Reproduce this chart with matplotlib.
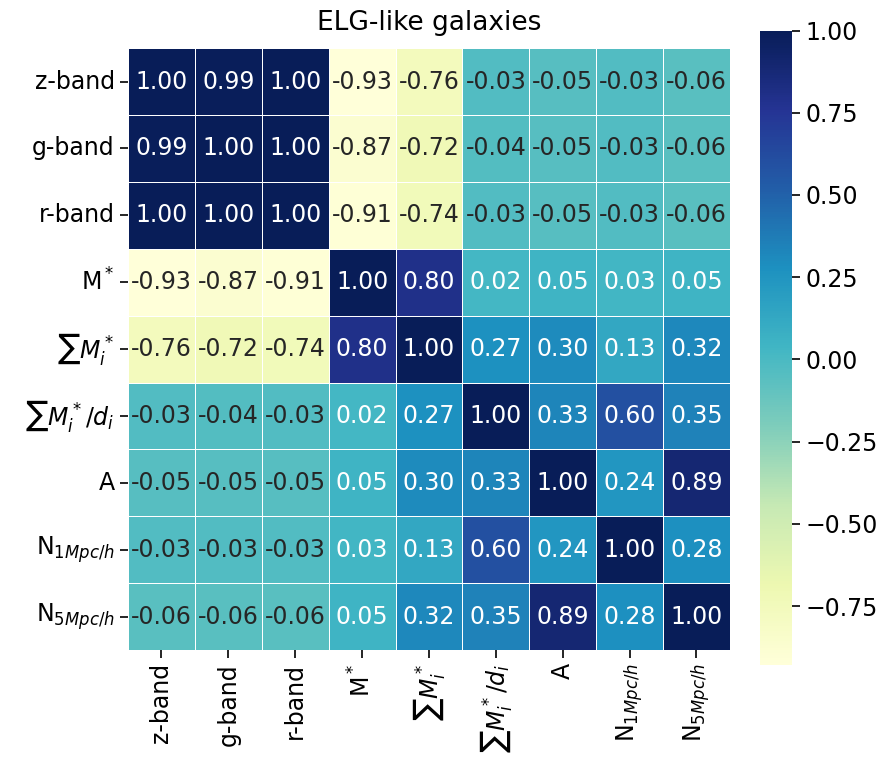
import numpy as np
import matplotlib
matplotlib.use("Agg")
import matplotlib.pyplot as plt
import seaborn as sns

# Correlation matrix between photometric / environment properties
labels = ['z-band', 'g-band', 'r-band', r'M$^*$', r'$\sum M_i^*$',
          r'$\sum M_i^*/d_i$', 'A', r'N$_{1Mpc/h}$', r'N$_{5Mpc/h}$']

row_z    = [1.00, 0.99, 1.00, -0.93, -0.76, -0.03, -0.05, -0.03, -0.06]
row_g    = [0.99, 1.00, 1.00, -0.87, -0.72, -0.04, -0.05, -0.03, -0.06]
row_r    = [1.00, 1.00, 1.00, -0.91, -0.74, -0.03, -0.05, -0.03, -0.06]
row_m    = [-0.93, -0.87, -0.91, 1.00, 0.80, 0.02, 0.05, 0.03, 0.05]
row_sm   = [-0.76, -0.72, -0.74, 0.80, 1.00, 0.27, 0.30, 0.13, 0.32]
row_smd  = [-0.03, -0.04, -0.03, 0.02, 0.27, 1.00, 0.33, 0.60, 0.35]
row_a    = [-0.05, -0.05, -0.05, 0.05, 0.30, 0.33, 1.00, 0.24, 0.89]
row_n1   = [-0.03, -0.03, -0.03, 0.03, 0.13, 0.60, 0.24, 1.00, 0.28]
row_n5   = [-0.06, -0.06, -0.06, 0.05, 0.32, 0.35, 0.89, 0.28, 1.00]

corr = np.array([row_z, row_g, row_r, row_m, row_sm, row_smd, row_a, row_n1, row_n5])

fig = plt.figure(figsize=(8.89, 7.63), dpi=100)
ax = fig.add_axes([0.144, 0.148, 0.677, 0.789])
cax = fig.add_axes([0.855, 0.128, 0.036, 0.832])

sns.heatmap(corr, ax=ax, cbar_ax=cax, cmap='YlGnBu', annot=True, fmt='.2f',
            linewidths=0.7, linecolor='white', square=True,
            xticklabels=labels, yticklabels=labels,
            annot_kws={'fontsize': 17})

ax.set_title('ELG-like galaxies', fontsize=19, pad=13)
ax.tick_params(axis='both', labelsize=17, length=6, width=1.2)
ax.set_xticklabels(labels, rotation=90)
ax.set_yticklabels(labels, rotation=0)
cax.tick_params(labelsize=17, length=6, width=1.2)
cax.set_yticks([-0.75, -0.5, -0.25, 0.0, 0.25, 0.5, 0.75, 1.0])

fig.savefig('out.png', dpi=100)
